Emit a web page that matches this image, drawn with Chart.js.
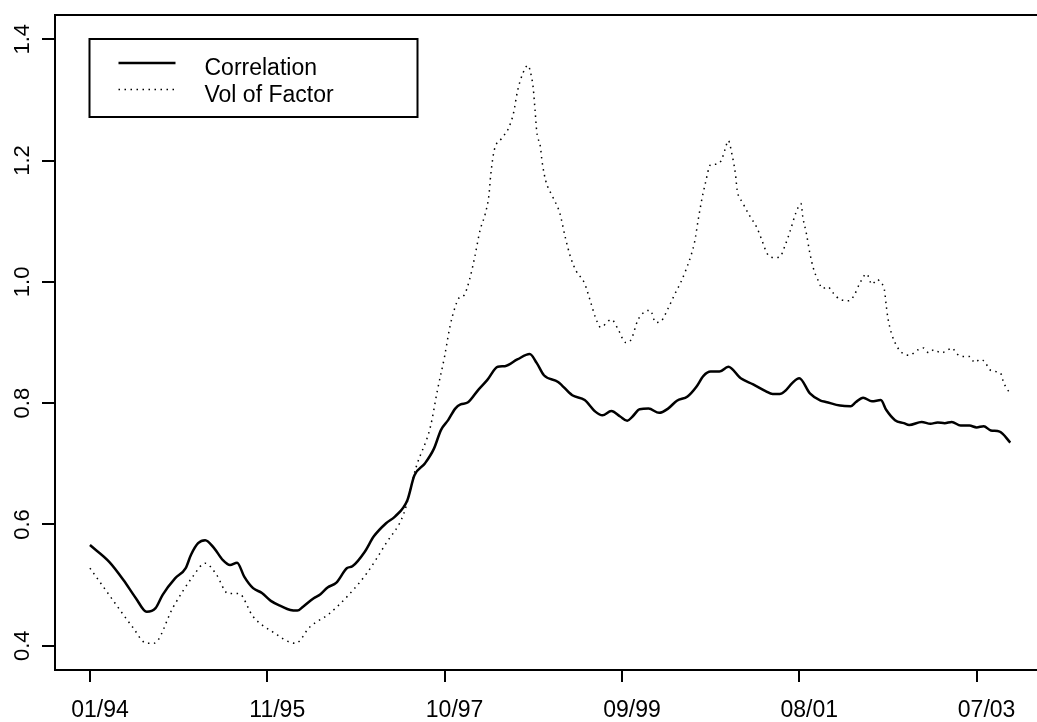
<!DOCTYPE html>
<html>
<head>
<meta charset="utf-8">
<script src="https://cdn.jsdelivr.net/npm/chart.js@4"></script>
<style>
  html, body { margin: 0; padding: 0; background: #fff; overflow: hidden; }
  canvas { display: block; }
</style>
</head>
<body>
<canvas id="myChart" width="1060" height="722"></canvas>
<script>
// weekly observations, index 0 = 01/94
const tickWeeks = [0, 100, 200, 300, 400, 500];
const tickLabels = ['01/94', '11/95', '10/97', '09/99', '08/01', '07/03'];
const yTicks = [0.4, 0.6, 0.8, 1.0, 1.2, 1.4];

const corrWeeks = [0,11,19,26,32,37,41,48,54,57,61,65,70,75,79,83,87,92,97,102,
    108,113,117,120,126,130,134,139,145,148,155,160,167,172,179,183,189,194,198,202,
    206,209,213,219,224,230,234,241,248,252,256,264,272,279,285,289,294,299,303,306,
    310,315,321,326,331,337,342,346,350,355,360,367,374,381,385,389,392,396,400,406,
    412,415,423,429,432,436,441,446,449,454,459,462,469,474,478,482,486,491,496,500,
    504,508,513,519];
const corrValues = [0.566,0.538,0.508,0.478,0.456,0.462,0.484,0.511,0.528,0.550,
    0.569,0.574,0.561,0.541,0.533,0.537,0.514,0.495,0.487,0.474,
    0.465,0.459,0.458,0.464,0.478,0.485,0.496,0.504,0.528,0.531,
    0.555,0.580,0.602,0.613,0.640,0.681,0.701,0.725,0.756,0.772,
    0.791,0.798,0.801,0.822,0.838,0.860,0.861,0.872,0.881,0.866,
    0.846,0.835,0.813,0.805,0.786,0.780,0.787,0.778,0.771,0.778,
    0.790,0.791,0.784,0.791,0.804,0.811,0.827,0.845,0.852,0.852,
    0.860,0.841,0.831,0.820,0.815,0.815,0.820,0.833,0.841,0.816,
    0.804,0.802,0.796,0.795,0.802,0.809,0.803,0.805,0.789,0.772,
    0.767,0.764,0.769,0.766,0.768,0.767,0.769,0.763,0.763,0.760,
    0.762,0.755,0.753,0.735];

const volWeeks = [0,13,24,32,36,47,58,65,71,78,
    84,92,103,116,124,135,145,156,167,177,
    184,192,196,200,203,206,208,211,214,217,
    220,223,225,226,228,232,236,239,241,244,
    247,249,250,251,252,254,255,257,261,265,
    268,271,274,279,282,285,288,294,298,302,
    305,309,313,316,319,322,326,330,333,336,
    339,341,343,345,347,350,353,356,358,360,
    362,364,365,368,372,376,379,382,386,389,
    392,395,398,401,402,404,406,408,411,413,
    416,419,423,428,431,434,438,441,444,446,
    448,449,450,452,455,458,462,467,470,473,
    476,480,483,486,489,492,496,499,502,505,
    507,511,514,515,517,519];
const volValues = [0.528,0.475,0.431,0.404,0.404,0.464,0.514,0.536,0.519,0.486,
    0.486,0.448,0.423,0.404,0.431,0.453,0.481,0.519,0.569,0.618,
    0.695,0.761,0.822,0.877,0.926,0.959,0.973,0.978,1.003,1.041,
    1.085,1.113,1.143,1.176,1.217,1.236,1.253,1.280,1.313,1.343,
    1.357,1.338,1.319,1.283,1.247,1.223,1.198,1.167,1.140,1.113,
    1.074,1.041,1.019,0.997,0.970,0.942,0.925,0.938,0.921,0.900,
    0.904,0.937,0.951,0.953,0.933,0.935,0.956,0.981,0.998,1.019,
    1.044,1.066,1.102,1.135,1.162,1.193,1.194,1.200,1.217,1.233,
    1.211,1.178,1.151,1.131,1.109,1.090,1.068,1.046,1.040,1.041,
    1.060,1.085,1.113,1.129,1.107,1.080,1.047,1.022,1.000,0.989,
    0.992,0.982,0.971,0.969,0.978,0.997,1.013,0.996,1.004,0.998,
    0.987,0.962,0.940,0.915,0.894,0.883,0.879,0.888,0.891,0.883,
    0.888,0.883,0.886,0.891,0.881,0.877,0.877,0.867,0.872,0.867,
    0.856,0.852,0.847,0.836,0.824,0.816];

const FONT = '"Liberation Sans", Arial, Helvetica, sans-serif';

// R-style frame, rotated y labels and boxed legend
const rStyle = {
    id: 'rStyle',
    afterDraw(chart) {
        const ctx = chart.ctx;
        const ca = chart.chartArea;
        const ys = chart.scales.y;
        ctx.save();
        ctx.strokeStyle = '#000';
        ctx.lineWidth = 2;
        ctx.strokeRect(ca.left, ca.top, ca.right - ca.left, ca.bottom - ca.top);

        ctx.fillStyle = '#000';
        ctx.font = '22px ' + FONT;
        ctx.textAlign = 'center';
        ctx.textBaseline = 'middle';
        yTicks.forEach(v => {
            ctx.save();
            ctx.translate(23, ys.getPixelForValue(v));
            ctx.rotate(-Math.PI / 2);
            ctx.fillText(v.toFixed(1), 0, 0);
            ctx.restore();
        });

        // legend
        const lx = ca.left + 34.5, ly = ca.top + 24;
        ctx.strokeRect(lx, ly, 328, 78);
        ctx.font = '23px ' + FONT;
        ctx.textAlign = 'left';
        ctx.textBaseline = 'alphabetic';
        chart.data.datasets.forEach((ds, i) => {
            const y = ly + 24 + i * 26.5;
            ctx.save();
            ctx.lineWidth = ds.borderWidth;
            ctx.setLineDash(ds.borderDash || []);
            ctx.beginPath();
            ctx.moveTo(lx + 29, y);
            ctx.lineTo(lx + 86, y);
            ctx.stroke();
            ctx.restore();
            ctx.fillText(ds.label, lx + 115, y + 12);
        });
        ctx.restore();
    }
};

new Chart(document.getElementById('myChart'), {
    type: 'line',
    data: {
        datasets: [{
            label: 'Correlation',
            data: corrWeeks.map((w, i) => ({ x: w, y: corrValues[i] })),
            borderColor: '#000',
            borderWidth: 2.5,
            pointRadius: 0,
            cubicInterpolationMode: 'monotone'
        },
        {
            label: 'Vol of Factor',
            data: volWeeks.map((w, i) => ({ x: w, y: volValues[i] })),
            borderColor: '#000',
            borderWidth: 1.5,
            borderDash: [1.5, 4.5],
            pointRadius: 0,
            cubicInterpolationMode: 'monotone'
        }]
    },
    plugins: [rStyle],
    options: {
        responsive: false,
        animation: false,
        devicePixelRatio: 1,
        layout: { padding: { top: 15, right: 13, left: 0, bottom: 0 } },
        plugins: {
            legend: { display: false },
            tooltip: { enabled: false }
        },
        scales: {
            x: {
                type: 'linear',
                min: -19.7,
                max: 539.7,
                afterBuildTicks(scale) { scale.ticks = tickWeeks.map(v => ({ value: v })); },
                afterFit(scale) { scale.height = 52; },
                border: { display: false },
                grid: { drawOnChartArea: false, color: '#000', lineWidth: 2, tickLength: 12 },
                ticks: {
                    autoSkip: false,
                    maxRotation: 0,
                    padding: 15,
                    labelOffset: 10,
                    color: '#000',
                    font: { family: FONT, size: 23 },
                    callback: (v) => tickLabels[tickWeeks.indexOf(v)]
                }
            },
            y: {
                min: 0.36,
                max: 1.44,
                afterBuildTicks(scale) { scale.ticks = yTicks.map(v => ({ value: v })); },
                afterFit(scale) { scale.width = 55; },
                border: { display: false },
                grid: { drawOnChartArea: false, color: '#000', lineWidth: 2, tickLength: 13 },
                ticks: { display: false }
            }
        }
    }
});
</script>
</body>
</html>
